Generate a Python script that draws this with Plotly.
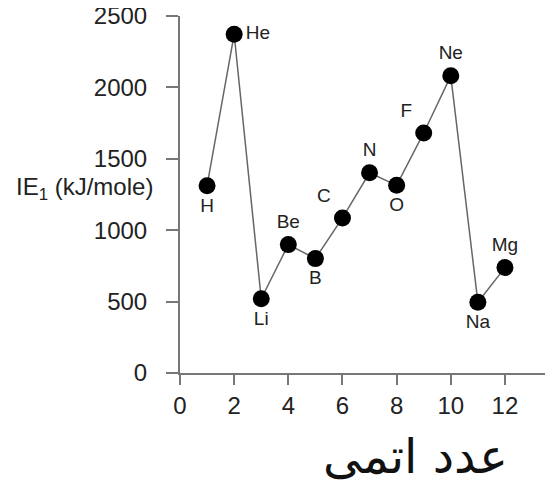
import plotly.graph_objects as go

atomic_number = [1, 2, 3, 4, 5, 6, 7, 8, 9, 10, 11, 12]
ie1_values = [1312, 2372, 520, 899, 801, 1086, 1402, 1314, 1681, 2081, 496, 738]
elements = ["H", "He", "Li", "Be", "B", "C", "N", "O", "F", "Ne", "Na", "Mg"]
x_ticks = [0, 2, 4, 6, 8, 10, 12]
y_ticks = [0, 500, 1000, 1500, 2000, 2500]

label_pos = ["bottom center", "middle right", "bottom center", "top center",
             "bottom center", "top left", "top center", "bottom center",
             "top left", "top center", "bottom center", "top center"]

fig = go.Figure()
fig.add_trace(go.Scatter(
    x=atomic_number, y=ie1_values, mode="lines+markers+text",
    text=elements, textposition=label_pos,
    textfont=dict(family="Liberation Sans, Arial, sans-serif", size=19, color="#222"),
    line=dict(color="#666", width=1.5),
    marker=dict(color="black", size=17),
    cliponaxis=False, showlegend=False,
))

axis_font = dict(family="Liberation Sans, Arial, sans-serif", size=24, color="#222")
fig.update_layout(
    width=553, height=481,
    margin=dict(l=172, r=0, t=8, b=116),
    paper_bgcolor="white", plot_bgcolor="white",
    xaxis=dict(range=[0, 14.07], tickvals=x_ticks, showgrid=False, zeroline=False,
               showline=True, linecolor="#777", linewidth=2, ticks="outside",
               ticklen=10, tickcolor="#777", tickwidth=2, tickfont=axis_font,
               automargin=False, ticklabeloverflow="allow"),
    yaxis=dict(range=[0, 2500], tickvals=y_ticks, showgrid=False, zeroline=False,
               showline=True, linecolor="#777", linewidth=2, ticks="outside",
               ticklen=12, tickcolor="#777", tickwidth=2, tickfont=axis_font,
               ticklabelstandoff=14, automargin=False, ticklabeloverflow="allow"),
)
fig.add_annotation(text="IE<sub>1</sub> (kJ/mole)", xref="paper", yref="y",
                   x=-0.066, y=1290, xanchor="right", yanchor="middle",
                   showarrow=False,
                   font=dict(family="Liberation Sans, Arial, sans-serif", size=24, color="#222"))
fig.add_annotation(text="عدد اتمی", xref="paper", yref="paper",
                   x=0.617, y=-0.232, xanchor="center", yanchor="middle",
                   showarrow=False,
                   font=dict(family="DejaVu Sans, sans-serif", size=48, color="#111"))
fig.write_html("out.html")
